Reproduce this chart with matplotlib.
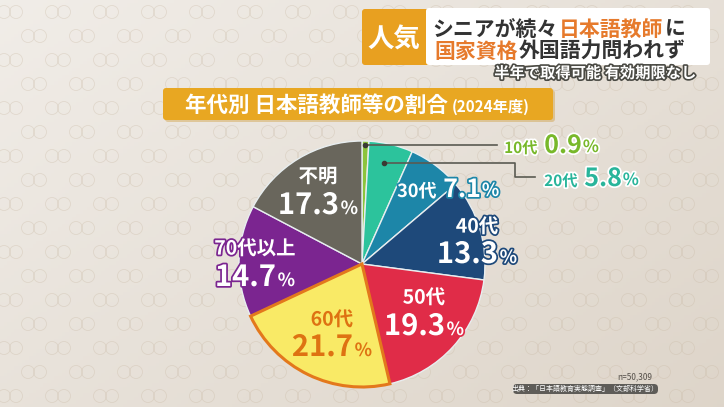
import numpy as np
import matplotlib
matplotlib.use("Agg")
import matplotlib.pyplot as plt
import matplotlib.patheffects as pe
from matplotlib.patches import FancyBboxPatch, Circle
from matplotlib.offsetbox import TextArea, HPacker, AnnotationBbox

plt.rcParams['font.family'] = ['Noto Sans CJK JP', 'DejaVu Sans']

# data
groups = ['10代', '20代', '30代', '40代', '50代', '60代', '70代以上', '不明']
shares = [0.9, 5.8, 7.1, 13.3, 19.3, 21.7, 14.7, 17.3]
slice_colors = ['#8cc43c', '#2cc39c', '#1d86a8', '#1e497a', '#e02c48',
                '#f9ea66', '#7b2590', '#69665c']
n_text = 'n=50,309'
source_text = '出典：「日本語教育実態調査」（文部科学省）'

W, H = 724, 407
fig = plt.figure(figsize=(W / 100, H / 100), dpi=100)
ax = fig.add_axes([0, 0, 1, 1])


def Y(y):
    return H - y


# background: soft beige gradient with faint ring pattern
gx, gy = np.meshgrid(np.linspace(0, 1, 200), np.linspace(0, 1, 120))
g = np.clip(0.55 * gx + 0.45 * gy, 0, 1)
c0 = np.array([0.945, 0.930, 0.910])
c1 = np.array([0.870, 0.835, 0.790])
bg = c0 + (c1 - c0) * g[..., None]
ax.imshow(bg, extent=[0, W, 0, H], origin='upper', aspect='auto', zorder=0)
for i, yy in enumerate(range(12, H, 24)):
    for xx in range(10 + (i % 2) * 24, W, 48):
        for dx in (-6, 6):
            ax.add_patch(Circle((xx + dx, Y(yy)), 6.5, fill=False,
                                ec='#c9b9a4', lw=0.6, alpha=0.35, zorder=1))

# pie
cx, cy, r = 362, 264, 123
wedges, _ = ax.pie(shares, colors=slice_colors, startangle=90,
                   counterclock=False, center=(cx, Y(cy)), radius=r,
                   wedgeprops=dict(edgecolor='#e8eef0', linewidth=1.0))
wedges[5].set_edgecolor('#e3781c')
wedges[5].set_linewidth(2.2)
wedges[5].set_zorder(3)
for w in wedges:
    if w.get_zorder() < 3:
        w.set_zorder(2)

ax.set_xlim(0, W)
ax.set_ylim(0, H)
ax.set_aspect('auto')
ax.axis('off')


def label(x, y, parts, sep=1, zorder=6):
    boxes = []
    for s, size, color, stroke in parts:
        props = dict(fontsize=size, color=color, fontweight='bold')
        if stroke:
            props['path_effects'] = [pe.withStroke(linewidth=2.5, foreground=stroke)]
        boxes.append(TextArea(s, textprops=props))
    pack = HPacker(children=boxes, align='baseline', pad=0, sep=sep)
    ab = AnnotationBbox(pack, (x, Y(y)), frameon=False, box_alignment=(0.5, 0.5),
                        pad=0, zorder=zorder)
    ax.add_artist(ab)


def pct(v):
    return f'{v:.1f}'


# leader lines for small slices
ax.plot([365, 497], [Y(145), Y(145)], color='#5a5a52', lw=1.2, zorder=5)
ax.plot([365], [Y(145)], 'o', color='#3a3a34', ms=3, zorder=5)
ax.plot([384, 515, 515, 535], [Y(163), Y(163), Y(177), Y(177)],
        color='#5a5a52', lw=1.2, zorder=5)
ax.plot([384], [Y(163)], 'o', color='#3a3a34', ms=3, zorder=5)

label(543, 146, [(groups[0], 11, '#78b82a', 'white'), (pct(shares[0]), 18, '#78b82a', 'white')],
      sep=5)
label(583, 179, [(groups[1], 11, '#28b59b', 'white'), (pct(shares[1]), 18, '#28b59b', 'white')],
      sep=5)
label(439, 190, [(groups[2], 13, 'white', '#1d86a8'), (pct(shares[2]), 18, 'white', '#1d86a8')],
      sep=5)
# styles of the small % signs placed after those three labels
label_pct = [(12, '#78b82a', 'white'), (12, '#28b59b', 'white'), (13, 'white', '#1d86a8')]

inner = [
    (3, 477, 227, 254, 'white', '#1e497a', 14, 21),
    (4, 424, 298, 326, 'white', '#e02c48', 14, 21),
    (5, 332, 320, 347, '#de7212', '#f9ea66', 14, 21),
    (6, 255, 249, 277, 'white', '#7b2590', 14, 21),
    (7, 318, 177, 205, 'white', '#69665c', 14, 21),
]
for idx, x, y1, y2, col, stroke, s1, s2 in inner:
    label(x, y1, [(groups[idx], s1, col, stroke)])
    label(x, y2, [(pct(shares[idx]), s2, col, stroke), ('%', s2 * 0.62, col, stroke)])

# title bar
ax.add_patch(FancyBboxPatch((165, Y(122)), 390, 32, boxstyle='round,pad=0,rounding_size=3',
                            fc='#c98e1a', ec='none', alpha=0.35, zorder=3))
ax.add_patch(FancyBboxPatch((163, Y(120)), 390, 32, boxstyle='round,pad=0,rounding_size=3',
                            fc='#e8a722', ec='none', zorder=4))
label(357, 105, [('年代別 日本語教師等の割合', 15.5, 'white', None),
                 ('(2024年度)', 11, 'white', None)], sep=3)

# header
ax.add_patch(FancyBboxPatch((362, Y(65)), 80, 56, boxstyle='round,pad=0,rounding_size=3',
                            fc='#e8a020', ec='none', zorder=4))
ax.text(394, Y(40), '人気', fontsize=19, color='white', fontweight='bold',
        ha='center', va='center', zorder=6)
ax.add_patch(FancyBboxPatch((426, Y(65)), 284, 57, boxstyle='round,pad=0,rounding_size=3',
                            fc='white', ec='none', zorder=5))
label(559, 29, [('シニアが続々', 15, '#333333', None), ('日本語教師', 15, '#e67a2c', None),
                ('に', 15, '#333333', None)])
label(560, 51, [('国家資格', 15, '#e67a2c', None), ('外国語力問われず', 15, '#333333', None)])
ax.text(696, Y(73), '半年で取得可能 有効期限なし', fontsize=11, color='white',
        fontweight='bold', ha='right', va='center', zorder=6,
        path_effects=[pe.withStroke(linewidth=2.4, foreground='#4a4a44')])

# footer
ax.text(652, Y(377), n_text, fontsize=6, color='#55504a', ha='right', va='center', zorder=6)
ax.add_patch(FancyBboxPatch((513, Y(394)), 145, 10, boxstyle='round,pad=0,rounding_size=4',
                            fc='#5e5c58', ec='none', zorder=5))
ax.text(585, Y(389), source_text, fontsize=5, color='white', ha='center', va='center', zorder=6)

fig.canvas.draw()
# attach the small % signs to the right edge of the outer number labels
renderer = fig.canvas.get_renderer()
outer = [a for a in ax.artists if isinstance(a, AnnotationBbox)][:3]
for ab, (size, col, stroke) in zip(outer, label_pct):
    bb = ab.get_window_extent(renderer)
    ax.text(bb.x1 + 1, bb.y0 + 2, '%', fontsize=size, color=col, fontweight='bold',
            ha='left', va='bottom', zorder=6, transform=None,
            path_effects=[pe.withStroke(linewidth=2.5, foreground=stroke)])

fig.savefig('out.png', dpi=100)
